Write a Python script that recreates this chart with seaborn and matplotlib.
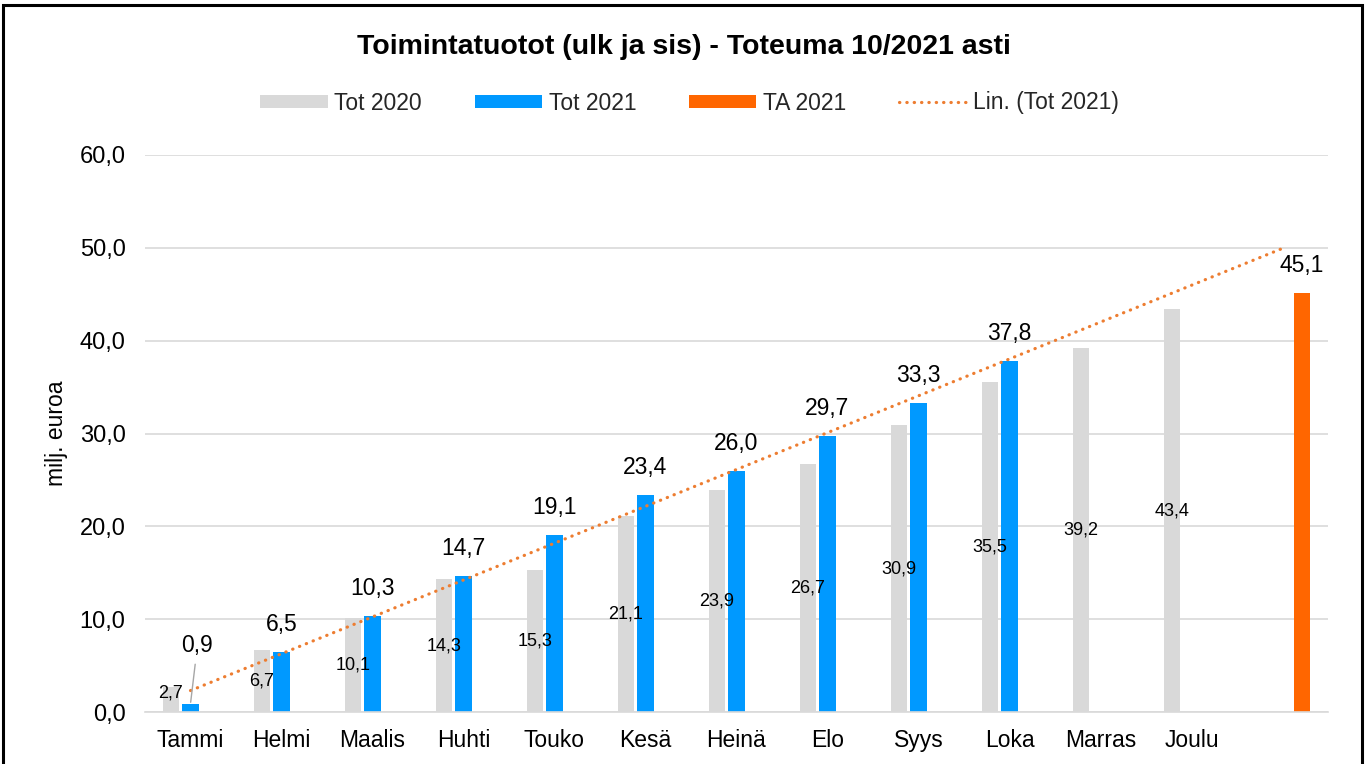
import matplotlib
matplotlib.use('Agg')
import matplotlib.pyplot as plt
import numpy as np
import pandas as pd
import seaborn as sns
from matplotlib.patches import Patch, Rectangle
from matplotlib.lines import Line2D

# Data
months = ['Tammi', 'Helmi', 'Maalis', 'Huhti', 'Touko', 'Kesä',
          'Heinä', 'Elo', 'Syys', 'Loka', 'Marras', 'Joulu']
categories = months + ['']
tot_2020 = [2.7, 6.7, 10.1, 14.3, 15.3, 21.1, 23.9, 26.7, 30.9, 35.5, 39.2, 43.4]
tot_2021 = [0.9, 6.5, 10.3, 14.7, 19.1, 23.4, 26.0, 29.7, 33.3, 37.8]
ta_2021 = [45.1]
series = ['Tot 2020', 'Tot 2021', 'TA 2021']
colors = ['#D9D9D9', '#0099FF', '#FF6600']
trend_color = '#ED7D31'
y_ticks = [0, 10, 20, 30, 40, 50, 60]

# Long table for seaborn
rows = []
for m, v in zip(months, tot_2020):
    rows.append({'kuukausi': m, 'sarja': 'Tot 2020', 'arvo': v})
for m, v in zip(months, tot_2021):
    rows.append({'kuukausi': m, 'sarja': 'Tot 2021', 'arvo': v})
for v in ta_2021:
    rows.append({'kuukausi': '', 'sarja': 'TA 2021', 'arvo': v})
df = pd.DataFrame(rows)


def fmt(v):
    return f'{v:.1f}'.replace('.', ',')


sns.set_theme(style='white')
plt.rcParams['font.family'] = ['Liberation Sans', 'DejaVu Sans']

fig = plt.figure(figsize=(13.67, 7.64), dpi=100)
ax = fig.add_axes([145 / 1367, 52 / 764, 1183 / 1367, 557 / 764])

sns.barplot(data=df, x='kuukausi', y='arvo', hue='sarja', order=categories,
            hue_order=series, palette=colors, width=0.643, gap=0.13,
            errorbar=None, legend=False, saturation=1, linewidth=0, ax=ax)

# Linear trendline of Tot 2021, forecast to the last category
x_fit = np.arange(len(tot_2021))
coef = np.polyfit(x_fit, tot_2021, 1)
x_line = np.arange(len(categories))
ax.plot(x_line, np.polyval(coef, x_line), color=trend_color, lw=2.3,
        linestyle=(0, (0.1, 2.2)), dash_capstyle='round', zorder=4)

# Data labels
for cont, name in zip(ax.containers, series):
    for i, bar in enumerate(cont):
        xc = bar.get_x() + bar.get_width() / 2
        h = bar.get_height()
        if name == 'Tot 2020':
            dy = 5 if i == 0 else 0
            ax.annotate(fmt(h), (xc, h / 2), xytext=(0, dy), textcoords='offset points',
                        ha='center', va='center', fontsize=13, color='black', zorder=5)
        elif name == 'Tot 2021' and i == 0:
            ax.annotate(fmt(h), (xc, h), xytext=(5, 42), textcoords='offset points',
                        ha='center', va='center', fontsize=16.5, color='black',
                        arrowprops=dict(arrowstyle='-', color='#A6A6A6', lw=1,
                                        shrinkA=3, shrinkB=1), zorder=5)
        else:
            ax.annotate(fmt(h), (xc, h), xytext=(0, 11.5), textcoords='offset points',
                        ha='center', va='bottom', fontsize=16.5, color='black', zorder=5)

# Axes styling
ax.set_xlim(-0.5, len(categories) - 0.5)
ax.set_ylim(0, 60)
ax.set_yticks(y_ticks)
ax.set_yticklabels([fmt(t) for t in y_ticks])
ax.set_xlabel('')
ax.set_ylabel('')
ax.tick_params(axis='y', length=0, pad=14, labelsize=17, labelcolor='black')
ax.tick_params(axis='x', length=0, pad=12, labelsize=16.5, labelcolor='black')
ax.yaxis.grid(True, color='#D9D9D9', lw=1.2)
ax.set_axisbelow(True)
for s in ['left', 'top', 'right']:
    ax.spines[s].set_visible(False)
ax.spines['bottom'].set_color('#D9D9D9')
ax.spines['bottom'].set_linewidth(1.2)

fig.text(57 / 1367, 1 - 433 / 764, 'milj. euroa', rotation=90, ha='center',
         va='center', fontsize=16.5, color='black')

fig.text(0.5, 1 - 47 / 764, 'Toimintatuotot (ulk ja sis) - Toteuma 10/2021 asti',
         ha='center', va='center', fontsize=20.5, fontweight='bold', color='black')

handles = [Patch(facecolor=c, edgecolor='none') for c in colors]
handles.append(Line2D([], [], color=trend_color, lw=2.3, linestyle=(0, (0.1, 2.2)),
                      dash_capstyle='round'))
labels = series + ['Lin. (Tot 2021)']
fig.legend(handles, labels, loc='center', bbox_to_anchor=(0.5045, 1 - 103 / 764),
           ncol=4, frameon=False, fontsize=16.5, handlelength=2.93, handleheight=0.52,
           handletextpad=0.3, columnspacing=2.3)

# Outer chart border
fig.add_artist(Rectangle((3 / 1367, -0.05), 1359 / 1367, 1.05 - 5 / 764,
                         transform=fig.transFigure, fill=False, edgecolor='black',
                         lw=2.2))

fig.savefig('out.png', dpi=100)
